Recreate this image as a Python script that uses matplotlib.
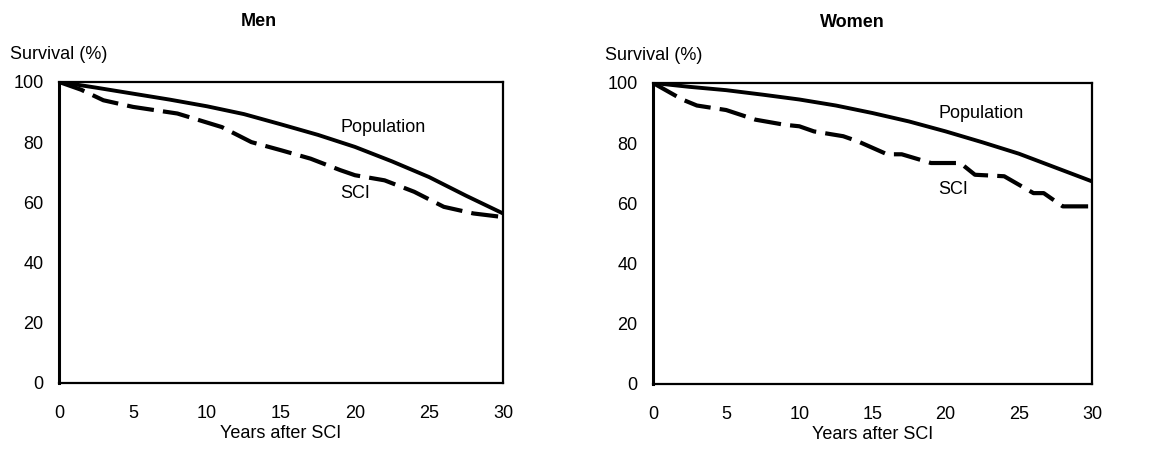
import numpy as np
import matplotlib
matplotlib.use('Agg')
import matplotlib.pyplot as plt

plt.rcParams['font.family'] = ['Liberation Sans', 'DejaVu Sans']

years_pop = [0, 2.5, 5, 7.5, 10, 12.5, 15, 17.5, 20, 22.5, 25, 27.5, 30]
men_pop = [100, 98.1, 96.1, 94.1, 91.9, 89.3, 85.9, 82.4, 78.4, 73.6, 68.4, 62.2, 56.3]
women_pop = [100, 98.7, 97.6, 96.1, 94.5, 92.5, 90.0, 87.2, 83.9, 80.3, 76.5, 71.9, 67.3]

men_sci_x = [0, 1.5, 3, 5, 8, 11, 13, 15, 17, 19, 20, 22, 24, 26, 28, 30]
men_sci_y = [100, 97.4, 93.9, 91.7, 89.5, 85.0, 80.0, 77.3, 74.5, 70.7, 69.0, 67.3, 63.5, 58.5, 56.3, 55.1]

women_sci_x = [0, 2, 3, 5, 7, 9, 10, 11, 13, 14, 16, 17, 19, 21, 22, 24, 26, 26.7, 28, 30]
women_sci_y = [100, 94.5, 92.5, 91.0, 87.8, 86.1, 85.6, 83.9, 82.3, 80.6, 76.3, 76.3, 73.4, 73.4, 69.5, 69.0, 63.4, 63.4, 59.0, 59.0]

xticks = [0, 5, 10, 15, 20, 25, 30]
yticks = [0, 20, 40, 60, 80, 100]

fig = plt.figure(figsize=(11.49, 4.5), dpi=100)
ax1 = fig.add_axes([0.0513, 0.149, 0.3865, 0.669])
ax2 = fig.add_axes([0.5683, 0.1467, 0.3821, 0.669])

panels = [
    (ax1, 'Men', men_pop, men_sci_x, men_sci_y, 0.45, (19.0, 85), (19.0, 63)),
    (ax2, 'Women', women_pop, women_sci_x, women_sci_y, 0.455, (19.5, 90), (19.5, 64.5)),
]

for ax, title, pop, sx, sy, tx, ppos, spos in panels:
    ax.plot(years_pop, pop, color='black', lw=2.8, solid_joinstyle='round')
    ax.plot(sx, sy, color='black', lw=3, dashes=(6.5, 2.2))
    ax.set_xlim(0, 30)
    ax.set_ylim(0, 100)
    ax.set_xticks(xticks)
    ax.set_yticks(yticks)
    ax.tick_params(length=0, labelsize=13)
    ax.tick_params(axis='x', pad=16)
    ax.tick_params(axis='y', pad=11)
    for s in ax.spines.values():
        s.set_linewidth(1.6)
    ax.spines['left'].set_linewidth(2.2)
    ax.set_xlabel('Years after SCI', fontsize=13, labelpad=2)
    ax.text(tx, 1.2, title, transform=ax.transAxes, ha='center', va='center',
            fontsize=13, fontweight='bold')
    ax.text(-0.11, 1.09, 'Survival (%)', transform=ax.transAxes, ha='left', va='center',
            fontsize=13)
    ax.text(ppos[0], ppos[1], 'Population', ha='left', va='center', fontsize=13)
    ax.text(spos[0], spos[1], 'SCI', ha='left', va='center', fontsize=13)

fig.savefig('out.png', dpi=100)
